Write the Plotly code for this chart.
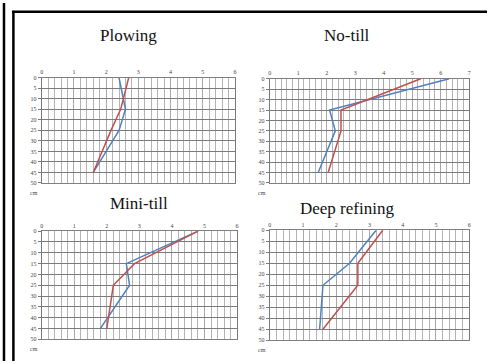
import plotly.graph_objects as go

W, H = 489, 364

depth = [0, 15, 25, 45]

plow_red = [2.7, 2.45, 2.15, 1.6]
plow_blue = [2.4, 2.6, 2.4, 1.6]

notill_red = [5.3, 2.5, 2.5, 2.05]
notill_blue = [6.3, 2.1, 2.3, 1.7]

mini_red = [4.8, 2.85, 2.2, 2.0]
mini_blue = [4.8, 2.6, 2.7, 1.8]

deep_red = [3.4, 2.65, 2.65, 1.6]
deep_blue = [3.2, 2.4, 1.6, 1.5]

titles = ["Plowing", "No-till", "Mini-till", "Deep refining"]
xmax = [6, 7, 6, 6]
ytick_vals = [0, 5, 10, 15, 20, 25, 30, 35, 40, 45, 50]
unit_label = "cm"

RED = "#c0504d"
BLUE = "#4f81bd"

# panel boxes in pixels: (left, right, top, bottom)
boxes = [(40, 235, 76, 183), (270, 471, 77, 183), (40, 237, 232, 342), (270, 471, 231, 343)]
title_pos = [(128, 33), (348, 33), (138, 204), (348, 209)]

series = [(plow_red, plow_blue), (notill_red, notill_blue), (mini_red, mini_blue), (deep_red, deep_blue)]

fig = go.Figure()
layout = dict(width=W, height=H, margin=dict(l=0, r=0, t=0, b=0),
              paper_bgcolor="white", plot_bgcolor="white", showlegend=False)
annotations = []
for i, (box, (red, blue)) in enumerate(zip(boxes, series)):
    n = "" if i == 0 else str(i + 1)
    xa, ya = "x" + n, "y" + n
    fig.add_trace(go.Scatter(x=blue, y=depth, mode="lines", xaxis=xa, yaxis=ya,
                             line=dict(color=BLUE, width=1.5)))
    fig.add_trace(go.Scatter(x=red, y=depth, mode="lines", xaxis=xa, yaxis=ya,
                             line=dict(color=RED, width=1.5)))
    l, r, t, b = box
    layout["xaxis" + n] = dict(
        domain=[l / W, r / W], anchor=ya, side="top", range=[0, xmax[i]],
        dtick=1, tickfont=dict(family="Liberation Serif", size=6, color="#444"),
        showgrid=True, gridcolor="#a8a8a8", gridwidth=1,
        minor=dict(dtick=0.2, showgrid=True, gridcolor="#b4b4b4", gridwidth=1),
        showline=True, linecolor="#808080", linewidth=1, mirror=True,
        ticks="", zeroline=False, fixedrange=True)
    layout["yaxis" + n] = dict(
        domain=[1 - b / H, 1 - t / H], anchor=xa, range=[50, 0],
        tickvals=ytick_vals, tickfont=dict(family="Liberation Serif", size=6, color="#444"),
        showgrid=True, gridcolor="#7a7a7a", gridwidth=1,
        showline=True, linecolor="#7a7a7a", linewidth=1, mirror=True,
        ticks="outside", ticklen=3, tickcolor="#7a7a7a", zeroline=False, fixedrange=True)
    tx, ty = title_pos[i]
    annotations.append(dict(text=titles[i], x=tx / W, y=1 - ty / H, xref="paper", yref="paper",
                            xanchor="center", yanchor="middle", showarrow=False,
                            font=dict(family="Liberation Serif", size=17, color="#111")))
    annotations.append(dict(text=unit_label, x=(l - 8) / W, y=1 - (b + 10) / H, xref="paper", yref="paper",
                            xanchor="center", yanchor="middle", showarrow=False,
                            font=dict(family="Liberation Serif", size=6, color="#444")))

layout["annotations"] = annotations
layout["shapes"] = [
    dict(type="line", xref="paper", yref="paper", x0=2 / W, x1=2 / W, y0=0, y1=1,
         line=dict(color="black", width=2.5)),
    dict(type="line", xref="paper", yref="paper", x0=11.5 / W, x1=11.5 / W, y0=0, y1=1 - 8 / H,
         line=dict(color="black", width=2.5)),
    dict(type="line", xref="paper", yref="paper", x0=10.3 / W, x1=1, y0=1 - 9 / H, y1=1 - 9 / H,
         line=dict(color="black", width=2.5)),
]
fig.update_layout(**layout)
fig.write_html("out.html")
